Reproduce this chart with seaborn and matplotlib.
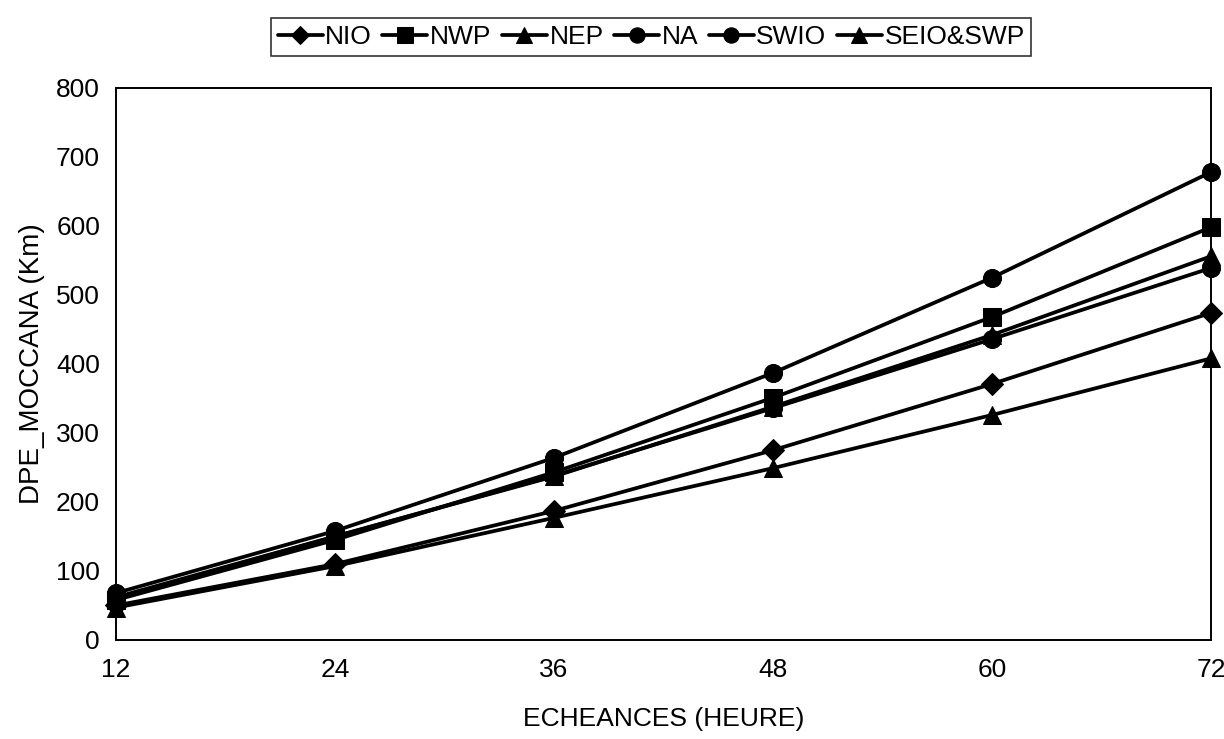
import pandas as pd
import matplotlib
matplotlib.use("Agg")
import matplotlib.pyplot as plt
import seaborn as sns

# ===============================
# DATA
# ===============================
hours = [12, 24, 36, 48, 60, 72]
zones = ["NIO", "NWP", "NEP", "NA", "SWIO", "SEIO&SWP"]
marker_shapes = ["D", "s", "^", "o", "o", "^"]

nio = [50, 110, 187, 275, 371, 474]
nwp = [58, 145, 243, 351, 468, 598]
nep = [60, 150, 237, 338, 442, 556]
na = [62, 150, 238, 336, 436, 539]
swio = [68, 158, 264, 387, 525, 678]
seio_swp = [47, 107, 177, 249, 326, 408]

series = [nio, nwp, nep, na, swio, seio_swp]

rows = []
for name, vals in zip(zones, series):
    for h, v in zip(hours, vals):
        rows.append({"zone": name, "heure": h, "dpe": v})
df = pd.DataFrame(rows)

# ===============================
# PLOT
# ===============================
sns.set_style("white")
plt.rcParams["font.family"] = ["Liberation Sans", "DejaVu Sans"]
plt.rcParams["text.color"] = "black"
plt.rcParams["axes.labelcolor"] = "black"

fig = plt.figure(figsize=(12.24, 7.39), dpi=100)
ax = fig.add_axes([0.0948, 0.134, 0.8945, 0.747])

sns.lineplot(
    data=df, x="heure", y="dpe",
    hue="zone", style="zone", hue_order=zones, style_order=zones,
    palette=["black"] * len(zones),
    markers=dict(zip(zones, marker_shapes)), dashes=False,
    linewidth=2.7, markersize=13, markeredgecolor="black",
    legend=False, ax=ax,
)
for ln, m in zip(ax.lines, marker_shapes):
    ln.set_clip_on(False)
    if m == "D":
        ln.set_markersize(11)

ax.set_xlim(12, 72)
ax.set_ylim(0, 800)
ax.set_xticks(hours)
ax.set_yticks(range(0, 801, 100))
ax.tick_params(axis="both", labelsize=19, direction="out", length=8,
               width=1.2, colors="black")
ax.tick_params(axis="x", pad=5)
for sp in ax.spines.values():
    sp.set_visible(True)
    sp.set_color("black")
    sp.set_linewidth(1.4)

ax.set_xlabel("ECHEANCES (HEURE)", fontsize=19, labelpad=18)
ax.set_ylabel("DPE_MOCCANA (Km)", fontsize=20, labelpad=8)

leg = fig.legend(
    handles=ax.lines[:len(zones)], labels=zones,
    loc="center", bbox_to_anchor=(0.532, 0.95), ncol=6,
    fontsize=19, frameon=True, fancybox=False, edgecolor="black",
    handlelength=1.7, handletextpad=0.1, columnspacing=0.4,
    borderpad=0.25, numpoints=1, markerscale=0.85,
)
leg.get_frame().set_linewidth(1.2)

fig.savefig("out.png", dpi=100, facecolor="white")
